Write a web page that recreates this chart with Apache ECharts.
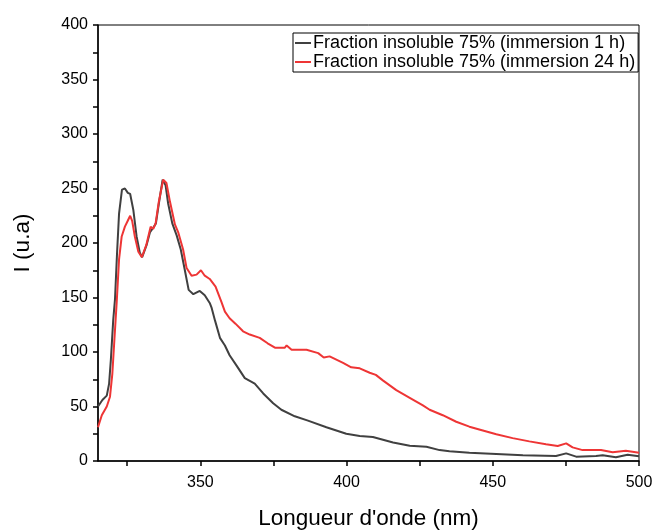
<!DOCTYPE html>
<html>
<head>
<meta charset="utf-8">
<script src="https://cdn.jsdelivr.net/npm/echarts@6/dist/echarts.min.js"></script>
<style>
  html, body { margin: 0; padding: 0; background: #fff; }
  #chart { width: 656px; height: 532px; }
</style>
</head>
<body>
<div id="chart"></div>
<script>
// 数据：波长 (nm) 与强度 (u.a)
var wl1h = [315, 316.5, 318, 318.8, 319.4, 320.2, 320.8, 321.5, 322.2, 323.2, 324.2, 325.2, 326, 327.1, 328.2, 329.3, 330.1, 331.6, 332.8, 333.9, 334.8, 335.8, 337.1, 338.1, 339, 340.4, 341.9, 343.3, 344.7, 346, 347.6, 349.8, 351.5, 353.2, 353.8, 355, 356.7, 358.4, 360, 362.5, 365.2, 368.6, 371.5, 374.9, 377.7, 382.3, 386.8, 393.1, 399.9, 404.5, 409, 415.9, 421.6, 427.3, 431.8, 435.2, 442, 451.2, 460.3, 471.6, 475.1, 478.5, 485.3, 487.6, 492.1, 496.1, 500];
var int1h = [50, 56, 60, 71, 93, 129, 148, 190, 227, 249, 250, 246, 245, 230, 206, 191, 187, 198, 210, 214, 218, 236, 258, 253, 236, 218, 207, 194, 175, 157, 153, 156, 152, 145, 141, 129, 113, 106, 97, 87, 76, 71, 62, 53, 47, 41, 37, 31, 25, 23, 22, 17, 14, 13, 10, 9, 7.6, 6.4, 5.2, 4.6, 7, 4, 4.6, 5.2, 3.4, 5.8, 4.3];

var wl24h = [315, 316.3, 318, 319.1, 319.9, 320.6, 321.4, 322.2, 323.1, 324.2, 325.1, 326, 326.7, 327.6, 328.8, 330, 331.5, 333, 333.9, 334.7, 335.8, 337.3, 338.4, 339.6, 341.3, 342.4, 344.1, 345.3, 347, 348.7, 350.2, 351.5, 353.2, 355.2, 357.2, 358.4, 360, 362, 364.6, 366.9, 370.3, 373, 375.5, 378.9, 379.5, 381.2, 386.3, 390.3, 392.2, 394.2, 398.8, 401.6, 404.5, 407.9, 410, 412.4, 417, 421.6, 426.1, 428.4, 432.9, 437.5, 442, 446.6, 451.2, 456.8, 462.5, 468.2, 472.2, 475.1, 477.3, 480.7, 487, 491, 495.5, 500];
var int24h = [31, 42, 50, 59, 80, 111, 146, 185, 206, 215, 220, 225, 220, 206, 192, 187, 198, 215, 213, 218, 238, 258, 255, 238, 217, 210, 194, 177, 170, 171, 175, 170, 167, 160, 146, 137, 131, 126, 119, 116, 113, 108, 104, 104, 106, 102, 102, 99, 95, 96, 90, 86, 85, 81, 79, 74, 65, 58, 51, 47, 42, 36, 31.5, 28, 24.5, 21, 18, 15.3, 13.8, 16.2, 12.5, 10, 10, 8, 9.4, 7.6];

var seriesNames = ['Fraction insoluble 75% (immersion 1 h)', 'Fraction insoluble 75% (immersion 24 h)'];
var xTicks = [325, 350, 375, 400, 425, 450, 475, 500];
var xLabels = [350, 400, 450, 500];

function pairs(xs, ys) {
    return xs.map(function (x, i) { return [x, ys[i]]; });
}

var myChart = echarts.init(document.getElementById('chart'));
var font = 'Liberation Sans, Arial, sans-serif';

var option = {
    animation: false,
    backgroundColor: '#fff',
    grid: {
        left: 98, right: 17, top: 25, bottom: 71,
        outerBoundsMode: 'none',
        show: true,
        borderColor: '#000',
        borderWidth: 1
    },
    legend: {
        orient: 'vertical',
        left: 293,
        top: 33,
        padding: [1, 3, 1, 2],
        itemGap: 1,
        itemWidth: 16,
        itemHeight: 2,
        icon: 'rect',
        borderColor: '#000',
        borderWidth: 1,
        textStyle: { fontFamily: font, fontSize: 18, lineHeight: 18, color: '#000', padding: [0, 0, 0, -3] },
        data: seriesNames
    },
    xAxis: {
        type: 'value',
        min: 315,
        max: 500,
        name: "Longueur d'onde (nm)",
        nameLocation: 'middle',
        nameGap: 46,
        nameTextStyle: { fontFamily: font, fontSize: 22.5, color: '#000' },
        axisLine: { lineStyle: { color: '#000', width: 1.5 } },
        axisTick: { show: true, length: 5, customValues: xTicks, lineStyle: { color: '#000', width: 1.5 } },
        axisLabel: { customValues: xLabels, fontFamily: font, fontSize: 16, color: '#000', margin: 14 },
        splitLine: { show: false }
    },
    yAxis: {
        type: 'value',
        min: 0,
        max: 400,
        interval: 50,
        name: 'I (u.a)',
        nameLocation: 'middle',
        nameGap: 64,
        nameTextStyle: { fontFamily: font, fontSize: 22.5, color: '#000' },
        axisLine: { show: true, lineStyle: { color: '#000', width: 1.5 } },
        axisTick: { show: true, length: 5, lineStyle: { color: '#000', width: 1.5 } },
        minorTick: { show: true, splitNumber: 2, length: 5, lineStyle: { color: '#000', width: 1.5 } },
        axisLabel: { fontFamily: font, fontSize: 16, color: '#000', margin: 10 },
        splitLine: { show: false }
    },
    series: [
        {
            name: seriesNames[0],
            type: 'line',
            data: pairs(wl1h, int1h),
            showSymbol: false,
            color: '#404040',
            lineStyle: { width: 2 }
        },
        {
            name: seriesNames[1],
            type: 'line',
            data: pairs(wl24h, int24h),
            showSymbol: false,
            color: '#ee3535',
            lineStyle: { width: 2 }
        }
    ]
};

myChart.setOption(option);
</script>
</body>
</html>
